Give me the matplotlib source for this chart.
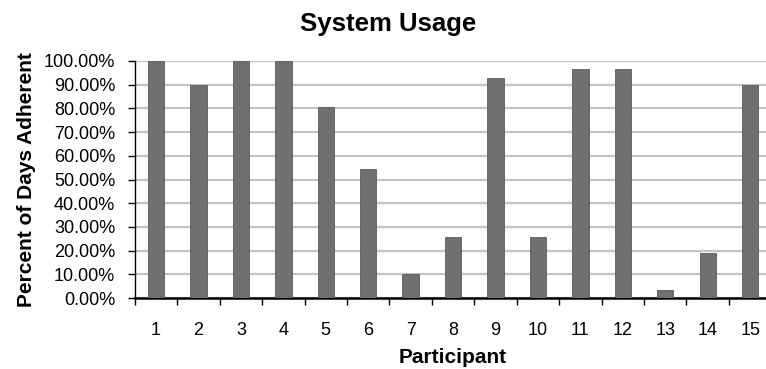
import matplotlib
matplotlib.use("Agg")
import matplotlib.pyplot as plt
import numpy as np

participants = [str(i) for i in range(1, 16)]
adherence = [100.0, 90.0, 100.0, 100.0, 80.4, 54.3, 10.0, 25.7, 92.9, 25.7,
             96.4, 96.4, 3.4, 19.2, 90.0]
y_ticks = [0, 10, 20, 30, 40, 50, 60, 70, 80, 90, 100]

plt.rcParams['font.family'] = ['Liberation Sans', 'DejaVu Sans']

fig = plt.figure(figsize=(7.66, 3.69), dpi=100)
ax = fig.add_axes([0.176, 0.192, 0.831, 0.643])

x = np.arange(1, len(participants) + 1)
ax.bar(x, adherence, width=0.385, color='#707070', edgecolor='#5a5a5a',
       linewidth=0.6, zorder=3)

ax.set_xlim(0.5, len(participants) + 0.5)
ax.set_ylim(0, 100)

ax.set_yticks(y_ticks)
ax.set_yticklabels([f"{v:.2f}%" for v in y_ticks], fontsize=13)
ax.yaxis.grid(True, color='#c4c4c4', linewidth=1.6, zorder=0)

# boundary ticks between categories, labels centred under each bar
ax.set_xticks(np.arange(0.5, len(participants) + 1.0, 1.0))
ax.set_xticklabels([])
ax.set_xticks(x, minor=True)
ax.set_xticklabels(participants, minor=True, fontsize=13)
ax.tick_params(axis='x', which='major', direction='out', length=5, width=1)
ax.tick_params(axis='x', which='minor', length=0, pad=17)
ax.tick_params(axis='y', direction='out', length=5, width=1, pad=9)

for side in ('top', 'right'):
    ax.spines[side].set_visible(False)
ax.spines['bottom'].set_linewidth(1.8)
ax.spines['left'].set_linewidth(1.0)

ax.set_xlabel('Participant', fontsize=15, fontweight='bold', labelpad=7)
ax.set_ylabel('Percent of Days Adherent', fontsize=15, fontweight='bold', labelpad=6)
fig.text(0.507, 0.916, 'System Usage', ha='center', va='baseline',
         fontsize=18.5, fontweight='bold')

fig.savefig('out.png', dpi=100)
